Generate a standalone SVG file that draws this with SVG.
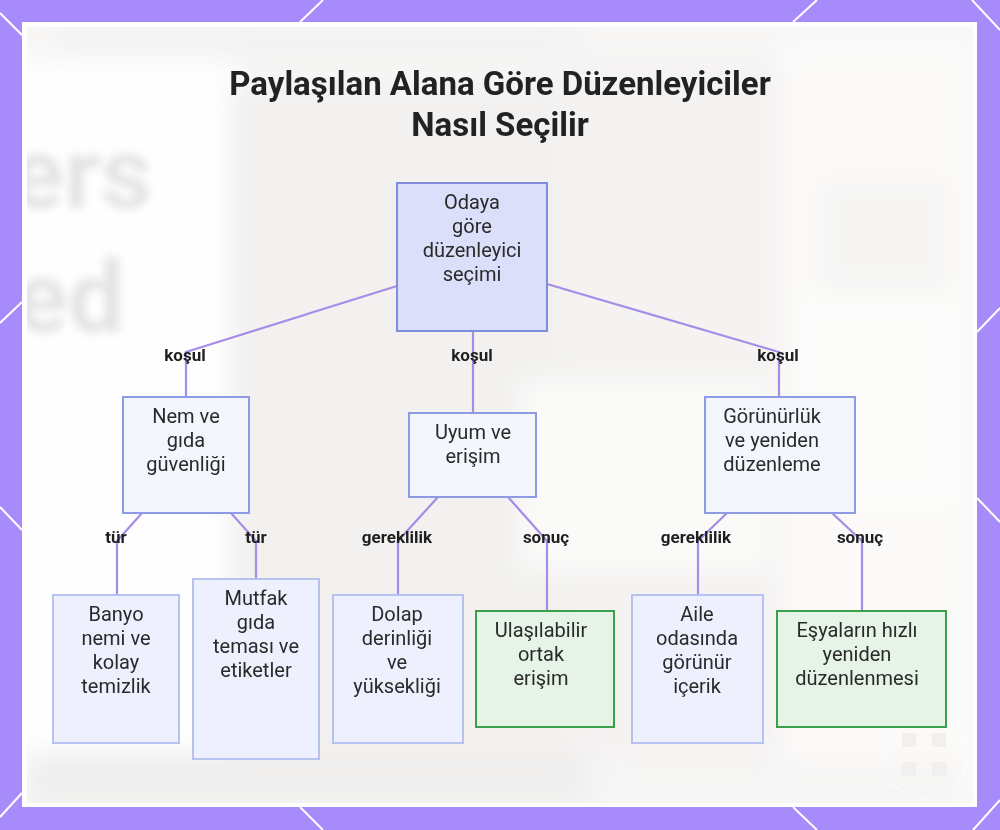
<svg xmlns="http://www.w3.org/2000/svg" width="1000" height="830" viewBox="0 0 1000 830">
  <defs>
    <style>
      .title { font-family: Roboto, "Liberation Sans", sans-serif; font-weight: 700; font-size: 33px; fill: #222; text-anchor: middle; }
      .node rect { stroke-width: 2; }
      .main rect { fill: #dcdffa; stroke: #7f8ddc; }
      .mid rect { fill: #f4f6fe; stroke: #8d9be3; }
      .leaf rect { fill: #eef1fd; stroke: #b6c2f0; }
      .ok rect { fill: #e5f4e6; stroke: #3c9f4c; }
      .node text { font-family: Roboto, "Liberation Sans", sans-serif; font-size: 20px; fill: #2a2a2a; text-anchor: middle; }
      .edges path { fill: none; stroke: #a68ce8; stroke-width: 2.2; }
      .elabel { font-family: Roboto, "Liberation Sans", sans-serif; font-weight: 700; font-size: 17px; fill: #1f1f1f; text-anchor: middle; }
      .frame-line { stroke: #ffffff; stroke-width: 2; }
      .bgtext { font-family: Roboto, "Liberation Sans", sans-serif; font-weight: 700; fill: #e3e4e5; }
    </style>
    <filter id="soft" x="-20%" y="-20%" width="140%" height="140%">
      <feGaussianBlur stdDeviation="12"/>
    </filter>
    <filter id="softer" x="-20%" y="-20%" width="140%" height="140%">
      <feGaussianBlur stdDeviation="4"/>
    </filter>
    <clipPath id="panel">
      <rect x="27" y="27" width="946" height="776"/>
    </clipPath>
  </defs>

  <!-- purple frame -->
  <rect x="0" y="0" width="1000" height="830" fill="#a78bfa"/>
  <g class="frame-line">
    <line x1="0" y1="13" x2="24" y2="37"/>
    <line x1="300" y1="22" x2="323" y2="0"/>
    <line x1="793" y1="22" x2="817" y2="0"/>
    <line x1="972" y1="0" x2="1000" y2="30"/>
    <line x1="0" y1="323" x2="22" y2="302"/>
    <line x1="0" y1="507" x2="22" y2="530"/>
    <line x1="977" y1="332" x2="1000" y2="308"/>
    <line x1="977" y1="498" x2="1000" y2="522"/>
    <line x1="0" y1="817" x2="22" y2="793"/>
    <line x1="300" y1="807" x2="323" y2="830"/>
    <line x1="793" y1="807" x2="817" y2="830"/>
    <line x1="973" y1="830" x2="1000" y2="800"/>
  </g>
  <rect x="22" y="22" width="955" height="785" fill="#ffffff"/>

  <!-- soft photographic backdrop -->
  <g clip-path="url(#panel)">
    <rect x="27" y="27" width="946" height="776" fill="#f8f7f6"/>
    <g filter="url(#soft)">
      <rect x="10" y="60" width="225" height="700" fill="#fefefe"/>
      <rect x="60" y="30" width="520" height="26" fill="#eeeeee" opacity="0.6"/>
      <rect x="230" y="80" width="330" height="680" fill="#f2f1f0"/>
      <rect x="560" y="60" width="220" height="700" fill="#f4f3f2"/>
      <rect x="780" y="40" width="200" height="760" fill="#fbfaf9"/>
      <rect x="820" y="180" width="130" height="110" fill="#f6f5f4"/>
      <rect x="800" y="300" width="150" height="200" fill="#fcfcfb"/>
      <rect x="520" y="380" width="250" height="190" fill="#fafaf9"/>
      <rect x="30" y="752" width="560" height="52" fill="#efeeed"/>
      <rect x="600" y="762" width="360" height="42" fill="#f6f5f4"/>
    </g>
    <g filter="url(#softer)">
      <text class="bgtext" x="10" y="208" font-size="100">ers</text>
      <text class="bgtext" x="14" y="332" font-size="100">ed</text>
    </g>
    <!-- badge mark, lower right -->
    <circle cx="925" cy="755" r="43" fill="none" stroke="#ffffff" stroke-width="1.2" stroke-dasharray="3 2" opacity="0.9"/>
    <g fill="#f1f0ef">
      <rect x="902" y="733" width="14" height="14"/>
      <rect x="932" y="733" width="14" height="14"/>
      <rect x="902" y="762" width="14" height="14"/>
      <rect x="932" y="762" width="14" height="14"/>
    </g>
  </g>

  <!-- title -->
  <text class="title" x="500" y="95">Paylaşılan Alana Göre Düzenleyiciler</text>
  <text class="title" x="500" y="136">Nasıl Seçilir</text>

  <!-- connectors -->
  <g id="edges" class="edges">
    <path d="M397,286 L186,352 L186,397"/>
    <path d="M473,332 L473,413"/>
    <path d="M547,284 L779,352 L779,397"/>
    <path d="M142,513 L117,541 L117,595"/>
    <path d="M231,513 L256,541 L256,579"/>
    <path d="M438,497 L398,541 L398,595"/>
    <path d="M508,497 L547,541 L547,611"/>
    <path d="M727,513 L698,541 L698,595"/>
    <path d="M832,513 L862,541 L862,611"/>
  </g>

  <!-- connector labels -->
  <g id="edge-labels">
    <text class="elabel" x="185" y="361">koşul</text>
    <text class="elabel" x="472" y="361">koşul</text>
    <text class="elabel" x="778" y="361">koşul</text>
    <text class="elabel" x="116" y="543">tür</text>
    <text class="elabel" x="256" y="543">tür</text>
    <text class="elabel" x="397" y="543">gereklilik</text>
    <text class="elabel" x="546" y="543">sonuç</text>
    <text class="elabel" x="696" y="543">gereklilik</text>
    <text class="elabel" x="860" y="543">sonuç</text>
  </g>

  <!-- nodes -->
  <g id="node-root" class="node main">
    <rect x="397" y="183" width="150" height="148"/>
    <text x="472"><tspan x="472" y="209">Odaya</tspan><tspan x="472" y="233">göre</tspan><tspan x="472" y="257">düzenleyici</tspan><tspan x="472" y="281">seçimi</tspan></text>
  </g>

  <g id="node-nem" class="node mid">
    <rect x="123" y="397" width="126" height="116"/>
    <text x="186"><tspan x="186" y="423">Nem ve</tspan><tspan x="186" y="447">gıda</tspan><tspan x="186" y="471">güvenliği</tspan></text>
  </g>

  <g id="node-uyum" class="node mid">
    <rect x="409" y="413" width="127" height="84"/>
    <text x="473"><tspan x="473" y="439">Uyum ve</tspan><tspan x="473" y="463">erişim</tspan></text>
  </g>

  <g id="node-gorunurluk" class="node mid">
    <rect x="705" y="397" width="150" height="116"/>
    <text x="772"><tspan x="772" y="423">Görünürlük</tspan><tspan x="772" y="447">ve yeniden</tspan><tspan x="772" y="471">düzenleme</tspan></text>
  </g>

  <g id="node-banyo" class="node leaf">
    <rect x="53" y="595" width="126" height="148"/>
    <text x="116"><tspan x="116" y="621">Banyo</tspan><tspan x="116" y="645">nemi ve</tspan><tspan x="116" y="669">kolay</tspan><tspan x="116" y="693">temizlik</tspan></text>
  </g>

  <g id="node-mutfak" class="node leaf">
    <rect x="193" y="579" width="126" height="180"/>
    <text x="256"><tspan x="256" y="605">Mutfak</tspan><tspan x="256" y="629">gıda</tspan><tspan x="256" y="653">teması ve</tspan><tspan x="256" y="677">etiketler</tspan></text>
  </g>

  <g id="node-dolap" class="node leaf">
    <rect x="333" y="595" width="130" height="148"/>
    <text x="397"><tspan x="397" y="621">Dolap</tspan><tspan x="397" y="645">derinliği</tspan><tspan x="397" y="669">ve</tspan><tspan x="397" y="693">yüksekliği</tspan></text>
  </g>

  <g id="node-ulasilabilir" class="node ok">
    <rect x="476" y="611" width="138" height="116"/>
    <text x="541"><tspan x="541" y="637">Ulaşılabilir</tspan><tspan x="541" y="661">ortak</tspan><tspan x="541" y="685">erişim</tspan></text>
  </g>

  <g id="node-aile" class="node leaf">
    <rect x="632" y="595" width="131" height="148"/>
    <text x="697"><tspan x="697" y="621">Aile</tspan><tspan x="697" y="645">odasında</tspan><tspan x="697" y="669">görünür</tspan><tspan x="697" y="693">içerik</tspan></text>
  </g>

  <g id="node-esyalar" class="node ok">
    <rect x="777" y="611" width="169" height="116"/>
    <text x="857"><tspan x="857" y="637">Eşyaların hızlı</tspan><tspan x="857" y="661">yeniden</tspan><tspan x="857" y="685">düzenlenmesi</tspan></text>
  </g>
</svg>
